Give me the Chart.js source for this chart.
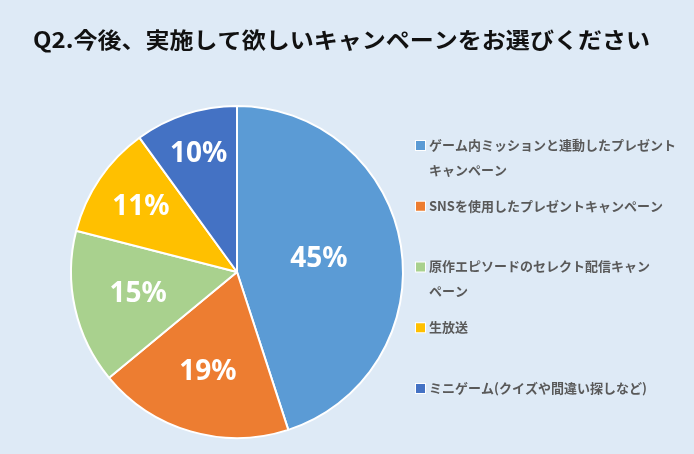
<!DOCTYPE html>
<html>
<head>
<meta charset="utf-8">
<script src="https://cdn.jsdelivr.net/npm/chart.js@4.4.1/dist/chart.umd.min.js"></script>
<style>
html,body{margin:0;padding:0;background:#DEEAF6;}
#wrap{width:694px;height:454px;position:relative;}
</style>
</head>
<body>
<div id="wrap"><canvas id="c" width="694" height="454"></canvas></div>
<script>
const titleText = 'Q2.今後、実施して欲しいキャンペーンをお選びください';
const categories = [
  ['ゲーム内ミッションと連動したプレゼント', 'キャンペーン'],
  ['SNSを使用したプレゼントキャンペーン'],
  ['原作エピソードのセレクト配信キャン', 'ペーン'],
  ['生放送'],
  ['ミニゲーム(クイズや間違い探しなど)']
];
const values = [45, 19, 15, 11, 10];
const colors = ['#5B9BD5', '#ED7D31', '#A9D18E', '#FFC000', '#4472C4'];
const labelRadius = [0.50, 0.63, 0.61, 0.70, 0.75];

const bgPlugin = {
  id: 'bg',
  beforeDraw(chart) {
    const ctx = chart.ctx;
    ctx.save();
    ctx.fillStyle = '#DEEAF6';
    ctx.fillRect(0, 0, chart.width, chart.height);
    ctx.restore();
  }
};

const titlePlugin = {
  id: 'customTitle',
  afterDraw(chart) {
    const ctx = chart.ctx;
    ctx.save();
    ctx.font = 'bold 22px "Noto Sans CJK JP"';
    ctx.fillStyle = '#111111';
    ctx.textBaseline = 'middle';
    const w = ctx.measureText(titleText).width;
    const target = 617;
    ctx.translate(33, 40);
    ctx.scale(target / w, 1);
    ctx.fillText(titleText, 0, 0);
    ctx.restore();
  }
};

const sliceLabelPlugin = {
  id: 'sliceLabels',
  afterDatasetsDraw(chart) {
    const ctx = chart.ctx;
    const meta = chart.getDatasetMeta(0);
    const data = chart.data.datasets[0].data;
    ctx.save();
    ctx.font = 'bold 28px "Noto Sans", "Noto Sans CJK JP"';
    ctx.fillStyle = '#FFFFFF';
    ctx.textAlign = 'center';
    ctx.textBaseline = 'middle';
    meta.data.forEach((arc, i) => {
      const p = arc.getProps(['x', 'y', 'startAngle', 'endAngle', 'outerRadius'], true);
      const mid = (p.startAngle + p.endAngle) / 2;
      const r = p.outerRadius * labelRadius[i];
      ctx.fillText(data[i] + '%', p.x + Math.cos(mid) * r, p.y + Math.sin(mid) * r);
    });
    ctx.restore();
  }
};

const legendPlugin = {
  id: 'customLegend',
  afterDraw(chart) {
    const ctx = chart.ctx;
    const labels = chart.data.labels;
    const cols = chart.data.datasets[0].backgroundColor;
    const x0 = 416, y0 = 145, step = 60.75, lineH = 25;
    ctx.save();
    ctx.font = 'bold 13px "Noto Sans CJK JP"';
    ctx.textBaseline = 'middle';
    labels.forEach((lines, i) => {
      const y = y0 + i * step;
      ctx.fillStyle = '#FFFFFF';
      ctx.fillRect(x0 - 1, y - 5, 11, 11);
      ctx.fillStyle = cols[i];
      ctx.fillRect(x0, y - 4, 9, 9);
      ctx.fillStyle = '#595959';
      lines.forEach((t, j) => ctx.fillText(t, x0 + 13, y + j * lineH));
    });
    ctx.restore();
  }
};

new Chart(document.getElementById('c'), {
  type: 'pie',
  data: {
    labels: categories,
    datasets: [{
      data: values,
      backgroundColor: colors,
      borderColor: '#FFFFFF',
      borderWidth: 2
    }]
  },
  options: {
    responsive: false,
    animation: false,
    rotation: 0,
    layout: { padding: { top: 105, bottom: 15, left: 70, right: 290 } },
    plugins: {
      legend: { display: false },
      tooltip: { enabled: false },
      title: { display: false }
    }
  },
  plugins: [bgPlugin, sliceLabelPlugin, legendPlugin, titlePlugin]
});
</script>
</body>
</html>
